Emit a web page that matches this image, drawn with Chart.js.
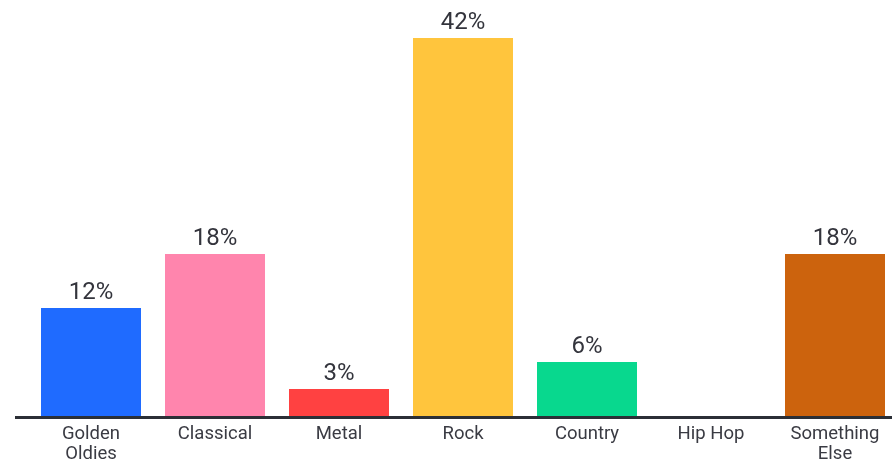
<!DOCTYPE html>
<html><head><meta charset="utf-8">
<script src="https://cdn.jsdelivr.net/npm/chart.js@4"></script>
<style>html,body{margin:0;padding:0;background:#fff;overflow:hidden;width:892px;height:463px}
#wrap{position:relative;width:910px;height:463px}</style>
</head><body><div id="wrap"><canvas id="c"></canvas></div>
<script>
const categories = [['Golden','Oldies'], 'Classical', 'Metal', 'Rock', 'Country', 'Hip Hop', ['Something','Else']];
const values = [12, 18, 3, 42, 6, 0, 18];
const colors = ['#1f6bff', '#ff85ad', '#ff4141', '#ffc53d', '#08d88e', '#8a5cf6', '#cc630d'];

const axisLine = {
  id: 'axisLine',
  afterDatasetsDraw(chart) {
    const {ctx, chartArea} = chart;
    ctx.save();
    ctx.strokeStyle = '#2b2f36';
    ctx.lineWidth = 3;
    ctx.beginPath();
    ctx.moveTo(15, chartArea.bottom + 1.5);
    ctx.lineTo(892, chartArea.bottom + 1.5);
    ctx.stroke();
    ctx.restore();
  }
};
const valueLabels = {
  id: 'valueLabels',
  afterDatasetsDraw(chart) {
    const {ctx} = chart;
    const meta = chart.getDatasetMeta(0);
    ctx.save();
    ctx.font = '24px Roboto, "Noto Sans", sans-serif';
    ctx.fillStyle = '#33343c';
    ctx.textAlign = 'center';
    ctx.textBaseline = 'alphabetic';
    meta.data.forEach((bar, i) => {
      if (!values[i]) return;
      ctx.fillText(values[i] + '%', bar.x, bar.y - 9.5);
    });
    ctx.restore();
  }
};

new Chart(document.getElementById('c'), {
  type: 'bar',
  data: { labels: categories, datasets: [{ data: values, backgroundColor: colors, borderWidth: 0, categoryPercentage: 1, barPercentage: 100/124 }] },
  options: {
    responsive: true, maintainAspectRatio: false, animation: false,
    layout: { padding: { left: 29, right: 13, top: 11, bottom: 0 } },
    plugins: { legend: { display: false }, tooltip: { enabled: false } },
    scales: {
      x: {
        grid: { display: false, drawTicks: false }, border: { display: false },
        afterFit(scale) { scale.height = 47; },
        ticks: { color: '#3a3b43', font: { size: 18.5, family: 'Roboto, "Noto Sans", sans-serif', lineHeight: 1.08 }, padding: 8, maxRotation: 0, autoSkip: false }
      },
      y: { display: false, min: 0, max: 45 }
    }
  },
  plugins: [axisLine, valueLabels]
});
</script></body></html>
